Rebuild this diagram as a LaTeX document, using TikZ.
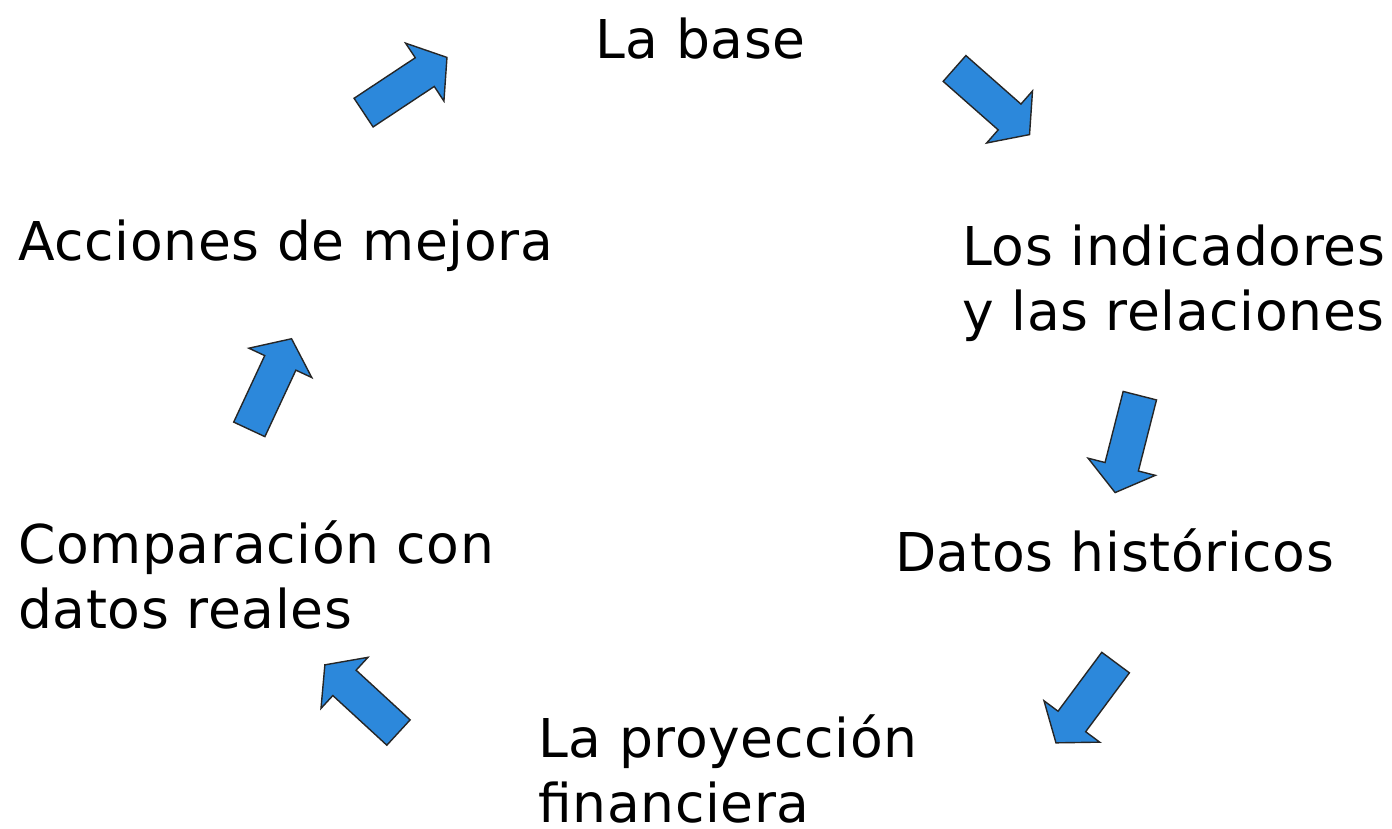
\documentclass[tikz,border=0pt]{standalone}
\usepackage{fontspec}
\setmainfont[LetterSpace=1.2]{DejaVu Sans}
\usetikzlibrary{shapes.arrows}
\definecolor{arrowblue}{RGB}{44,136,219}
\tikzset{
  blockarrow/.style={single arrow, draw=black!85, fill=arrowblue, line width=1.4pt,
    minimum height=100pt, minimum width=68pt, single arrow head extend=17.5pt,
    single arrow tip angle=105, inner xsep=0pt, inner ysep=16.5pt, anchor=tail},
  label/.style={anchor=base west, align=left, inner sep=0pt,
    font=\fontsize{53.5}{65}\selectfont}
}
\begin{document}
\begin{tikzpicture}[x=1pt,y=-1pt]
\useasboundingbox (0,0) rectangle (1392,829);
\node[label] (base) at (595,59) {La base};
\node[label] (ind) at (962,330) {Los indicadores\\y las relaciones};
\node[label] (hist) at (895,571) {Datos históricos};
\node[label, text depth=0pt] (proy) at (538,822) {La proyección\\financiera};
\node[label] (comp) at (18,628) {Comparación con\\datos reales};
\node[label] (acc) at (18,261) {Acciones de mejora};
\node[blockarrow, rotate=33.5] (a1) at (363,113) {};
\node[blockarrow, rotate=-41.4] (a2) at (954,68) {};
\node[blockarrow, rotate=-104.3] (a3) at (1140,395) {};
\node[blockarrow, rotate=-126.6] (a4) at (1116,662) {};
\node[blockarrow, rotate=137.4] (a5) at (399,733) {};
\node[blockarrow, rotate=65] (a6) at (249,430) {};
\end{tikzpicture}
\end{document}
